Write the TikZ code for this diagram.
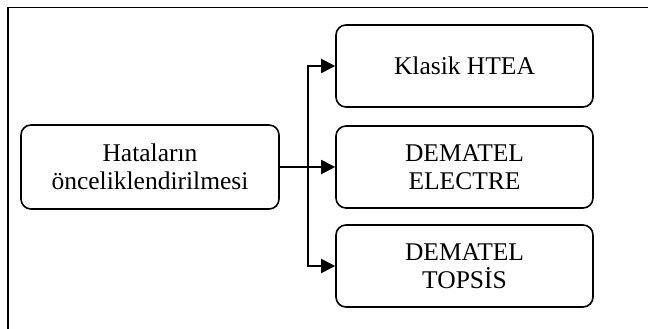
\documentclass[tikz,border=0pt]{standalone}
\usepackage{fontspec}
\setmainfont{Liberation Serif}
\usetikzlibrary{arrows.meta}
\begin{document}
\begin{tikzpicture}[x=1pt,y=-1pt,
  box/.style={draw, line width=1.6pt, rounded corners=10pt, minimum width=257pt,
    minimum height=82pt, align=center, inner sep=0pt,
    font=\fontsize{25.5}{28}\selectfont},
  conn/.style={line width=2pt, -{Triangle[length=14pt,width=14pt]}},
  frameline/.style={line width=1.5pt}]
\useasboundingbox (0,0) rectangle (648,329);
\draw[frameline] (8,329) -- (8,7.5) -- (648,7.5);
\node[box, minimum width=258pt, minimum height=84pt] (src) at (150,167) {Hataların\\önceliklendirilmesi};
\node[box] (m1) at (464.5,66) {Klasik HTEA};
\node[box] (m2) at (464.5,167) {DEMATEL\\ELECTRE};
\node[box] (m3) at (464.5,266) {DEMATEL\\TOPSİS};
\coordinate (j) at (308,167);
\draw[conn] (src.east) -- (m2.west);
\draw[conn] (j) |- (m1.west);
\draw[conn] (j) |- (m3.west);
\end{tikzpicture}
\end{document}
